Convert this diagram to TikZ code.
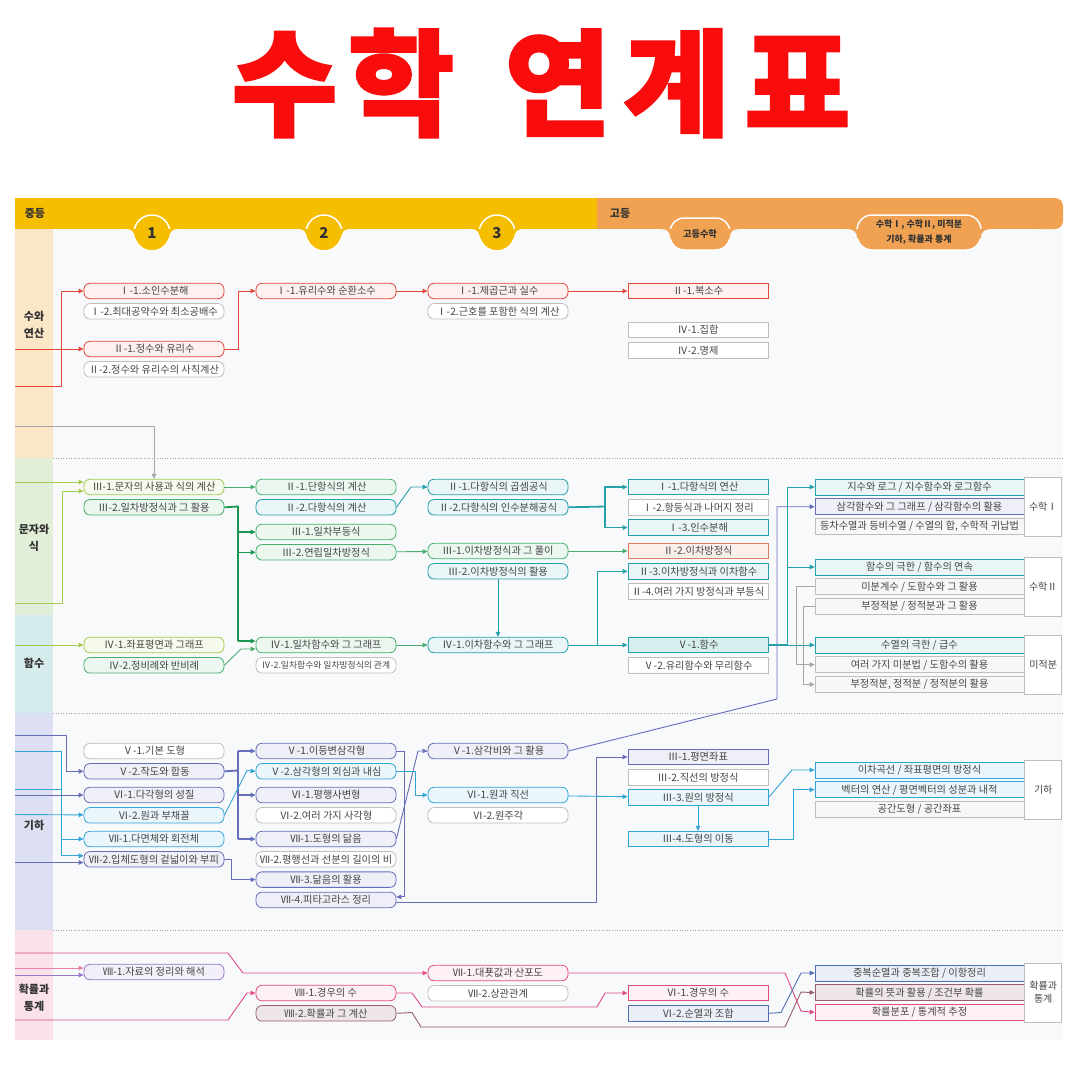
\documentclass[tikz,border=0pt]{standalone}
\usepackage{fontspec}
\setmainfont{Noto Sans CJK KR}
\newfontfamily\titlefont{Noto Sans CJK KR}[FakeBold=1.5]
\usepackage{tikz}
\usetikzlibrary{positioning,arrows.meta}
\definecolor{ink}{RGB}{70,70,70}
\definecolor{head}{RGB}{50,50,50}
\definecolor{titlered}{RGB}{248,12,12}
\definecolor{bandyel}{RGB}{246,190,0}
\definecolor{bandorg}{RGB}{240,162,82}
\definecolor{panel}{RGB}{248,249,251}
\definecolor{catnum}{RGB}{252,230,200}
\definecolor{catexp}{RGB}{226,239,216}
\definecolor{catfun}{RGB}{214,236,236}
\definecolor{catgeo}{RGB}{221,224,242}
\definecolor{catprb}{RGB}{251,225,234}
\definecolor{cred}{RGB}{224,72,60}
\definecolor{cgray}{RGB}{190,190,190}
\definecolor{lgray}{RGB}{165,165,165}
\definecolor{cygrn}{RGB}{160,205,80}
\definecolor{cgrn}{RGB}{70,175,110}
\definecolor{cdgrn}{RGB}{25,150,80}
\definecolor{cteal}{RGB}{35,160,168}
\definecolor{csky}{RGB}{50,165,215}
\definecolor{cind}{RGB}{100,110,185}
\definecolor{cpink}{RGB}{225,75,130}
\definecolor{cmauve}{RGB}{150,95,110}
\definecolor{cpurp}{RGB}{150,120,200}
\definecolor{cblue}{RGB}{80,110,180}
\definecolor{corg}{RGB}{225,125,95}
\newcommand\boxfont{\fontsize{10.2}{11}\selectfont}
\newcommand\smallboxfont{\fontsize{8.8}{10}\selectfont}
\tikzset{
  mbox/.style={draw,rounded corners=6pt,minimum width=140pt,minimum height=15.5pt,
    inner sep=0pt,font=\boxfont,text=ink,line width=0.8pt},
  hbox/.style={draw,minimum width=140pt,minimum height=15.5pt,
    inner sep=0pt,font=\boxfont,text=ink,line width=0.8pt},
  rbox/.style={draw,minimum width=209pt,minimum height=16pt,
    inner sep=0pt,font=\boxfont,text=ink,line width=0.7pt},
  rlab/.style={draw=cgray,fill=white,minimum width=37pt,inner sep=0pt,anchor=west,
    font=\fontsize{10}{13}\selectfont,text=ink,align=center,line width=0.7pt},
  catlab/.style={font=\bfseries\fontsize{11}{16.5}\selectfont,text=head,align=center},
  kred/.style={draw=cred,fill=cred!8},
  kgray/.style={draw=cgray,fill=white},
  kygrn/.style={draw=cygrn,fill=cygrn!10},
  kgrn/.style={draw=cgrn,fill=cgrn!10},
  kteal/.style={draw=cteal,fill=cteal!10},
  ksky/.style={draw=csky,fill=csky!10},
  kind/.style={draw=cind,fill=cind!11},
  kpink/.style={draw=cpink,fill=cpink!8},
  kmauve/.style={draw=cmauve,fill=cmauve!16},
  kpurp/.style={draw=cpurp,fill=cpurp!12},
  kblue/.style={draw=cblue,fill=cblue!12},
  korg/.style={draw=corg,fill=corg!12},
  ln/.style={-{Triangle[length=5pt,width=4.5pt]},line width=0.9pt},
  thk/.style={line width=1.8pt},
}

\begin{document}
\begin{tikzpicture}[x=1pt,y=-1pt,node distance=4pt]
  \useasboundingbox (0,0) rectangle (1080,1080);
  \fill[white] (0,0) rectangle (1080,1080);

  % title
  \node[font=\titlefont\bfseries\fontsize{116}{120}\selectfont,text=titlered] (title) at (541,83)
    {수\hspace{10pt}학\hspace{50pt}연\hspace{12pt}계\hspace{14pt}표};

  % panel and category column
  \fill[panel] (53,229) rectangle (1063,1040);
  \fill[catnum] (15,229) rectangle (53,458);
  \fill[catexp] (15,458) rectangle (53,615);
  \fill[catfun] (15,615) rectangle (53,713);
  \fill[catgeo] (15,713) rectangle (53,930);
  \fill[catprb] (15,930) rectangle (53,1040);
  \foreach \y in {458,713,930}
    \draw[lgray,dotted,line width=0.6pt] (53,\y) -- (1063,\y);

  % header band
  \fill[bandyel] (15,198) rectangle (597,229);
  \fill[bandorg] (597,198) rectangle (1050,229);
  \fill[bandorg,rounded corners=8pt] (1030,198) rectangle (1063,229);
  \foreach \x/\n in {152/1,324/2,497/3}{
    \fill[bandyel,draw=white,line width=1.5pt] (\x,233) circle (18pt);
    \fill[bandyel] (\x-27,229) .. controls (\x-20,229) and (\x-18,231) .. (\x-17,238)
      -- (\x+17,238) .. controls (\x+18,231) and (\x+20,229) .. (\x+27,229) -- cycle;
    \node[font=\bfseries\fontsize{15}{16}\selectfont,text=head] (num\n) at (\x,233) {\n};
  }
  \fill[bandorg,draw=white,line width=1.5pt,rounded corners=14pt] (670,218) rectangle (730,250);
  \fill[bandorg] (660,229) .. controls (667,229) and (670,231) .. (670,238) -- (730,238)
    .. controls (730,231) and (733,229) .. (740,229) -- cycle;
  \fill[bandorg,draw=white,line width=1.5pt,rounded corners=15pt] (857,215) rectangle (981,250);
  \fill[bandorg] (846,229) .. controls (853,229) and (857,231) .. (857,238) -- (981,238)
    .. controls (981,231) and (985,229) .. (992,229) -- cycle;
  \node[font=\bfseries\fontsize{11}{12}\selectfont,text=head] (mid) at (35,213) {중등};
  \node[font=\bfseries\fontsize{11}{12}\selectfont,text=head] (high) at (620,213) {고등};
  \node[font=\bfseries\fontsize{9.2}{10}\selectfont,text=head] (hsm) at (700,234) {고등수학};
  \node[font=\bfseries\fontsize{9}{14.5}\selectfont,text=head,align=center] (elec) at (919,232)
    {수학Ⅰ, 수학Ⅱ, 미적분\\기하, 확률과 통계};

  % category labels
  \node[catlab] (k1) at (34,325) {수와\\연산};
  \node[catlab] (k2) at (34,538) {문자와\\식};
  \node[catlab] (k3) at (34,663) {함수};
  \node[catlab] (k4) at (34,825) {기하};
  \node[catlab] (k5) at (34,998) {확률과\\통계};

  % ---- 수와 연산
  \node[mbox,kred] (n11) at (154,291) {Ⅰ-1.소인수분해};
  \node[mbox,kgray,below=of n11] (n12) {Ⅰ-2.최대공약수와 최소공배수};
  \node[mbox,kred] (n13) at (154,349) {Ⅱ-1.정수와 유리수};
  \node[mbox,kgray,below=of n13] (n14) {Ⅱ-2.정수와 유리수의 사칙계산};
  \node[mbox,kred] (n21) at (326,291) {Ⅰ-1.유리수와 순환소수};
  \node[mbox,kred] (n31) at (498,291) {Ⅰ-1.제곱근과 실수};
  \node[mbox,kgray,below=of n31] (n32) {Ⅰ-2.근호를 포함한 식의 계산};
  \node[hbox,kred] (h11) at (698,291) {Ⅱ-1.복소수};
  \node[hbox,kgray] (h12) at (698,330) {Ⅳ-1.집합};
  \node[hbox,kgray,below=of h12] (h13) {Ⅳ-2.명제};

  % ---- 문자와 식
  \node[mbox,kygrn] (e11) at (154,487) {Ⅲ-1.문자의 사용과 식의 계산};
  \node[mbox,kgrn,below=of e11] (e12) {Ⅲ-2.일차방정식과 그 활용};
  \node[mbox,kgrn] (e21) at (326,487) {Ⅱ-1.단항식의 계산};
  \node[mbox,kteal,below=of e21] (e22) {Ⅱ-2.다항식의 계산};
  \node[mbox,kgrn] (e23) at (326,532) {Ⅲ-1.일차부등식};
  \node[mbox,kgrn,below=of e23] (e24) {Ⅲ-2.연립일차방정식};
  \node[mbox,kteal] (e31) at (498,487) {Ⅱ-1.다항식의 곱셈공식};
  \node[mbox,kteal,below=of e31] (e32) {Ⅱ-2.다항식의 인수분해공식};
  \node[mbox,kgrn] (e33) at (498,551) {Ⅲ-1.이차방정식과 그 풀이};
  \node[mbox,kteal,below=of e33] (e34) {Ⅲ-2.이차방정식의 활용};
  \node[hbox,kteal] (h21) at (698,487) {Ⅰ-1.다항식의 연산};
  \node[hbox,kgray,below=of h21] (h22) {Ⅰ-2.항등식과 나머지 정리};
  \node[hbox,kteal,below=of h22] (h23) {Ⅰ-3.인수분해};
  \node[hbox,korg] (h24) at (698,551) {Ⅱ-2.이차방정식};
  \node[hbox,kteal,below=of h24] (h25) {Ⅱ-3.이차방정식과 이차함수};
  \node[hbox,kgray,below=of h25] (h26) {Ⅱ-4.여러 가지 방정식과 부등식};

  % ---- 함수
  \node[mbox,kygrn] (f11) at (154,645) {Ⅳ-1.좌표평면과 그래프};
  \node[mbox,kgrn,below=of f11] (f12) {Ⅳ-2.정비례와 반비례};
  \node[mbox,kgrn] (f21) at (326,645) {Ⅳ-1.일차함수와 그 그래프};
  \node[mbox,kgray,below=of f21,font=\smallboxfont] (f22) {Ⅳ-2.일차함수와 일차방정식의 관계};
  \node[mbox,kteal] (f31) at (498,645) {Ⅳ-1.이차함수와 그 그래프};
  \node[hbox,kteal,fill=cteal!18] (h31) at (698,645) {Ⅴ-1.함수};
  \node[hbox,kgray,below=of h31] (h32) {Ⅴ-2.유리함수와 무리함수};

  % ---- 기하
  \node[mbox,kgray] (g11) at (154,751) {Ⅴ-1.기본 도형};
  \node[mbox,kind,below=of g11] (g12) {Ⅴ-2.작도와 합동};
  \node[mbox,kind] (g13) at (154,795) {Ⅵ-1.다각형의 성질};
  \node[mbox,ksky,below=of g13] (g14) {Ⅵ-2.원과 부채꼴};
  \node[mbox,ksky] (g15) at (154,839) {Ⅶ-1.다면체와 회전체};
  \node[mbox,kind,below=of g15] (g16) {Ⅶ-2.입체도형의 겉넓이와 부피};
  \node[mbox,kind] (g21) at (326,751) {Ⅴ-1.이등변삼각형};
  \node[mbox,ksky,below=of g21] (g22) {Ⅴ-2.삼각형의 외심과 내심};
  \node[mbox,kind] (g23) at (326,795) {Ⅵ-1.평행사변형};
  \node[mbox,kgray,below=of g23] (g24) {Ⅵ-2.여러 가지 사각형};
  \node[mbox,kind] (g25) at (326,839) {Ⅶ-1.도형의 닮음};
  \node[mbox,kgray,below=of g25] (g26) {Ⅶ-2.평행선과 선분의 길이의 비};
  \node[mbox,kind,below=of g26] (g27) {Ⅶ-3.닮음의 활용};
  \node[mbox,kind,below=of g27] (g28) {Ⅶ-4.피타고라스 정리};
  \node[mbox,kind] (g31) at (498,751) {Ⅴ-1.삼각비와 그 활용};
  \node[mbox,ksky] (g32) at (498,795) {Ⅵ-1.원과 직선};
  \node[mbox,kgray,below=of g32] (g33) {Ⅵ-2.원주각};
  \node[hbox,kind] (h41) at (698,757) {Ⅲ-1.평면좌표};
  \node[hbox,kgray,below=of h41] (h42) {Ⅲ-2.직선의 방정식};
  \node[hbox,ksky,below=of h42] (h43) {Ⅲ-3.원의 방정식};
  \node[hbox,ksky] (h44) at (698,839) {Ⅲ-4.도형의 이동};

  % ---- 확률과 통계
  \node[mbox,kpurp] (p11) at (154,972) {Ⅷ-1.자료의 정리와 해석};
  \node[mbox,kpink] (p21) at (326,993) {Ⅷ-1.경우의 수};
  \node[mbox,kmauve,below=of p21] (p22) {Ⅷ-2.확률과 그 계산};
  \node[mbox,kpink] (p31) at (498,973) {Ⅶ-1.대푯값과 산포도};
  \node[mbox,kgray,below=of p31] (p32) {Ⅶ-2.상관관계};
  \node[hbox,kpink] (h51) at (698,993) {Ⅵ-1.경우의 수};
  \node[hbox,kblue,below=of h51] (h52) {Ⅵ-2.순열과 조합};

  % ---- 선택 과목
  \node[rbox,kteal] (r11) at (919.5,487) {지수와 로그 / 지수함수와 로그함수};
  \node[rbox,kind,below=3pt of r11] (r12) {삼각함수와 그 그래프 / 삼각함수의 활용};
  \node[rbox,kgray,fill=black!3,below=3pt of r12] (r13) {등차수열과 등비수열 / 수열의 합, 수학적 귀납법};
  \node[rlab,minimum height=59pt] (s1) at (r12.east) {수학Ⅰ};
  \node[rbox,kteal] (r21) at (919.5,567) {함수의 극한 / 함수의 연속};
  \node[rbox,kgray,fill=black!3,below=3pt of r21] (r22) {미분계수 / 도함수와 그 활용};
  \node[rbox,kgray,fill=black!3,below=3pt of r22] (r23) {부정적분 / 정적분과 그 활용};
  \node[rlab,minimum height=59pt] (s2) at (r22.east) {수학Ⅱ};
  \node[rbox,kteal] (r31) at (919.5,645) {수열의 극한 / 급수};
  \node[rbox,kgray,fill=black!3,below=3pt of r31] (r32) {여러 가지 미분법 / 도함수의 활용};
  \node[rbox,kgray,fill=black!3,below=3pt of r32] (r33) {부정적분, 정적분 / 정적분의 활용};
  \node[rlab,minimum height=59pt] (s3) at (r32.east) {미적분};
  \node[rbox,ksky] (r41) at (919.5,770) {이차곡선 / 좌표평면의 방정식};
  \node[rbox,ksky,below=3pt of r41] (r42) {벡터의 연산 / 평면벡터의 성분과 내적};
  \node[rbox,kgray,fill=black!3,below=3pt of r42] (r43) {공간도형 / 공간좌표};
  \node[rlab,minimum height=59pt] (s4) at (r42.east) {기하};
  \node[rbox,kblue] (r51) at (919.5,973) {중복순열과 중복조합 / 이항정리};
  \node[rbox,kmauve,below=3pt of r51] (r52) {확률의 뜻과 활용 / 조건부 확률};
  \node[rbox,kpink,below=3pt of r52] (r53) {확률분포 / 통계적 추정};
  \node[rlab,minimum height=59pt] (s5) at (r52.east) {확률과\\통계};

  % ---- connectors: 수와 연산
  \coordinate (l1) at (15,386);
  \coordinate (l2) at (15,349);
  \draw[ln,cred] (l1) -| ([xshift=-22pt]n11.west) -- (n11.west);
  \draw[ln,cred] (l2) -- (n13.west);
  \draw[ln,cred] (n13.east) -- ++(14pt,0) |- (n21.west);
  \draw[ln,cred] (n21) -- (n31);
  \draw[ln,cred] (n31) -- (h11);

  % ---- connectors: 문자와 식
  \coordinate (l3) at (15,426);
  \coordinate (l4) at (15,482);
  \coordinate (l5) at (15,603);
  \draw[ln,lgray] (l3) -| (e11.north);
  \draw[ln,cygrn] (l4) -- (e11.west |- l4);
  \draw[ln,cygrn] (l5) -- (62,603) |- (e11.west |- 0,491);
  \draw[ln,cgrn] (e11) -- (e21);
  \draw[cdgrn,thk] (e12.east) -- (238,506.5) -- (238,641);
  \draw[ln,cdgrn,line width=1.2pt] (238,0 |- e23.west) -- (e23.west);
  \draw[ln,cdgrn,line width=1.2pt] (238,0 |- e24.west) -- (e24.west);
  \draw[ln,cdgrn,line width=1.2pt] (238,641) -- (f21.west |- 0,641);
  \draw[ln,cteal] (e22.east) -- (411,487) -- (e31.west);
  \draw[cteal,thk] (e32.east) -- (605,506.5);
  \draw[ln,cteal,line width=1.2pt] (605,506.5) |- (h21.west);
  \draw[ln,cteal,line width=1.2pt] (605,506.5) |- (h23.west);
  \draw[ln,cgrn] (e24) -- (e33);
  \draw[ln,cgrn] (e33) -- (h24);
  \draw[ln,cteal] (e34) -- (f31);

  % ---- connectors: 함수
  \coordinate (l6) at (15,645);
  \coordinate (j1) at (597,645);
  \coordinate (j2) at (787,645);
  \draw[ln,cygrn] (l6) -- (f11);
  \draw[ln,cgrn] (f12.east) -- (241,649) -- (f21.west |- 0,649);
  \draw[ln,cgrn] (f21) -- (f31);
  \draw[ln,cteal] (f31) -- (h31);
  \draw[ln,cteal] (j1) |- (h25.west);
  \draw[cteal,thk] (h31.east) -- (j2);
  \draw[ln,cteal] (j2) -- (r31.west);
  \draw[ln,cteal] (j2) |- (r11.west);
  \draw[ln,cteal] (j2) |- (r21.west);
  \draw[ln,lgray,line width=0.8pt] (r22.west) -- ++(-18pt,0) |- (r32.west);
  \draw[ln,lgray,line width=0.8pt] (r23.west) -- ++(-11pt,0) |- (r33.west);

  % ---- connectors: 기하
  \coordinate (l7) at (15,735);
  \coordinate (l8) at (15,751);
  \coordinate (l9) at (15,789);
  \coordinate (l10) at (15,795);
  \coordinate (l11) at (15,814.5);
  \coordinate (l12) at (15,862.5);
  \draw[ln,cind] (l7) -| ([xshift=-17pt]g12.west) -- (g12.west);
  \draw[ln,csky] (l8) -| ([xshift=-22pt]g15.west) -- (g15.west);
  \draw[ln,csky] (l9) -| ([xshift=-22pt,yshift=3.5pt]g16.west) -- ([yshift=3.5pt]g16.west);
  \draw[ln,cind] (l10) -- (g13);
  \draw[ln,csky] (l11) -- (g14);
  \draw[ln,cind] (l12) -- (g16.west |- l12);
  \draw[cind,thk] (g12.east) -- (238,770.5);
  \draw[cind,line width=1.2pt] (238,751) -- (238,839);
  \foreach \t in {g21,g23,g25}
    \draw[ln,cind,line width=1.2pt] (238,0 |- \t.west) -- (\t.west);
  \draw[ln,csky] (g14.east) -- (247,770.5) -- (g22.west);
  \draw[ln,cind] (g16.east) -- ++(7pt,0) |- (g27.west);
  \draw[ln,cind] (g21.east) -- ++(8pt,0) |- ([yshift=3pt]g28.east);
  \draw[ln,cind] ([yshift=-3pt]g28.east) -| ([xshift=-31pt]h41.west) -- (h41.west);
  \draw[ln,cind] (g25.east) -- (418,751) -- (g31.west);
  \draw[ln,csky] (g22.east) -- ++(19pt,0) |- (g32.west);
  \draw[ln,csky] (g32) -- (h43);
  \draw[ln,csky] (h43) -- (h44);
  \draw[ln,csky] (h43.east) -- (792,770) -- (r41.west);
  \draw[ln,csky] (h44.east) -- ++(25pt,0) |- (r42.west);
  \draw[ln,cind] (g31.east) -- (777,699) |- (r12.west);

  % ---- connectors: 확률과 통계
  \coordinate (l13) at (15,953);
  \coordinate (l14) at (15,968);
  \coordinate (l15) at (15,975);
  \coordinate (l16) at (15,1020);
  \draw[ln,cpink] (l13) -- (228,953) -- (243,973) -- (p31.west);
  \draw[ln,cpink!70] (l14) -- (p11.west |- l14);
  \draw[ln,cpurp] (l15) -- (p11.west |- l15);
  \draw[ln,cpink] (l16) -- (228,1020) -- (247,993) -- (p21.west);
  \draw[ln,cpink] (p21.east) -- (412,993) -- (422,1007) -- (597,1007) -- (605,993) -- (h51.west);
  \draw[ln,cmauve] (p22.east) -- (412,1012.5) -- (421,1027) -- (785,1027) -- (801,992) -- (r52.west);
  \draw[ln,cpink] (p31.east) -- (785,973) -- (801,1011) -- (r53.west);
  \draw[ln,cblue] (h52.east) -- (781,1012.5) -- (801,973) -- (r51.west);
\end{tikzpicture}
\end{document}
